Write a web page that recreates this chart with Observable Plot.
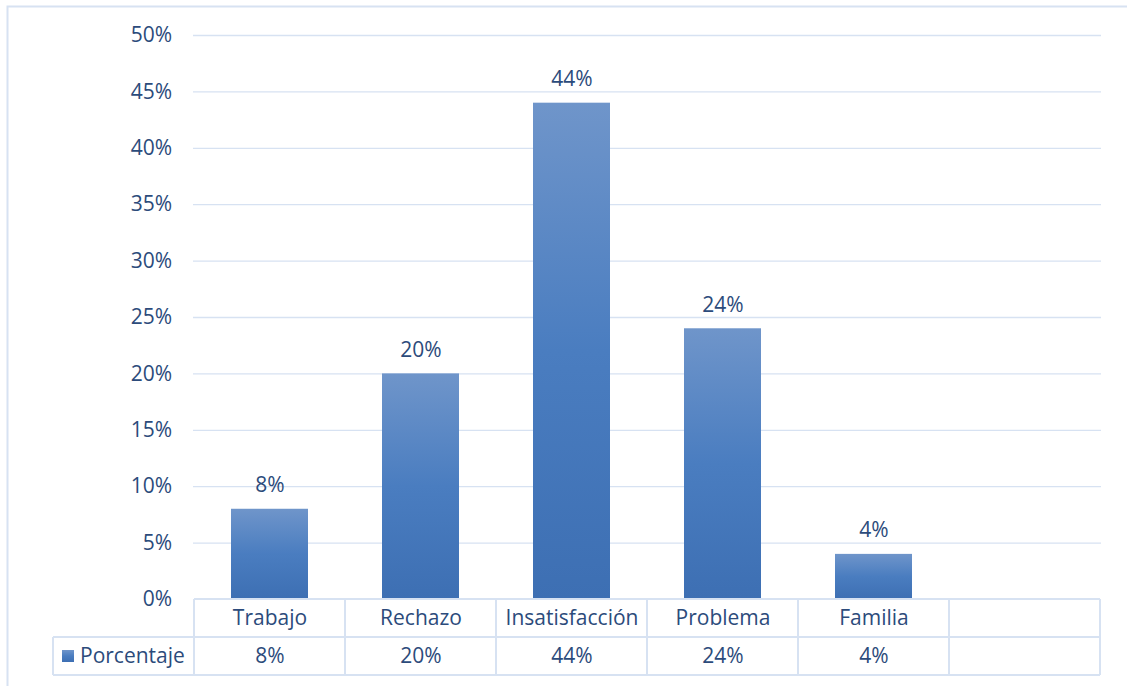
<!DOCTYPE html>
<html><head><meta charset="utf-8">
<script src="https://cdn.jsdelivr.net/npm/d3@7"></script>
<script src="https://cdn.jsdelivr.net/npm/@observablehq/plot@0.6"></script>
<style>
html,body{margin:0;padding:0;background:#fff;}
#chart{position:relative;width:1127px;height:686px;overflow:hidden;}
</style>
</head><body><div id="chart"></div>
<script>
const categories = ["Trabajo", "Rechazo", "Insatisfacción", "Problema", "Familia", ""];
const values = [0.08, 0.20, 0.44, 0.24, 0.04, null];
const valueLabels = ["8%", "20%", "44%", "24%", "4%", ""];
const yTicks = [0, 0.05, 0.10, 0.15, 0.20, 0.25, 0.30, 0.35, 0.40, 0.45, 0.50];
const seriesName = "Porcentaje";

const data = categories.map((c, i) => ({cat: c, v: values[i], label: valueLabels[i]}));
const bars = data.filter(d => d.v != null);

const textColor = "#2C4B7B";
const lineColor = "#D7E2F2";
const font = "'Open Sans', sans-serif";
const fs = 21;

const chart = Plot.plot({
  width: 1127,
  height: 686,
  marginLeft: 193,
  marginRight: 26,
  marginTop: 35,
  marginBottom: 87,
  style: {fontFamily: font, fontSize: fs + "px", color: textColor, background: "transparent", overflow: "visible"},
  x: {type: "band", domain: categories, paddingInner: 0.49, paddingOuter: 0.245, axis: null},
  y: {domain: [0, 0.5], axis: null},
  marks: [
    Plot.ruleY(yTicks.filter(t => t > 0), {stroke: lineColor, strokeWidth: 1.3}),
    Plot.barY(bars, {x: "cat", y: "v", fill: "url(#barGrad)"}),
    Plot.text(bars, {x: "cat", y: "v", text: "label", dy: -24, fill: textColor, fontSize: fs}),
    Plot.text(yTicks, {x: () => categories[0], y: d => d, text: d => Math.round(d * 100) + "%", frameAnchor: "left", dx: -98, textAnchor: "end", fill: textColor, fontSize: fs}),
    Plot.text(data, {x: "cat", y: () => 0, text: "cat", dy: 19, fill: textColor, fontSize: fs}),
    Plot.text(data, {x: "cat", y: () => 0, text: "label", dy: 57, fill: textColor, fontSize: fs})
  ]
});

const svg = d3.select(chart);
const defs = svg.insert("defs", ":first-child");
const g = defs.append("linearGradient").attr("id", "barGrad").attr("x1", 0).attr("y1", 0).attr("x2", 0).attr("y2", 1);
g.append("stop").attr("offset", "0%").attr("stop-color", "#6F95CA");
g.append("stop").attr("offset", "50%").attr("stop-color", "#4A7DC0");
g.append("stop").attr("offset", "100%").attr("stop-color", "#3D6FB3");

// Table grid using the plot's own scales
const xs = chart.scale("x");
const ys = chart.scale("y");
const step = xs.step;
const x0 = xs.apply(categories[0]) - (step - xs.bandwidth) / 2;
const xEnd = x0 + step * categories.length;
const yBase = ys.apply(0);
const rowH = 38;
const legendLeft = 53;
const tg = svg.append("g").attr("fill", "none").attr("stroke", lineColor).attr("stroke-width", 2);
tg.append("line").attr("x1", x0).attr("x2", xEnd).attr("y1", yBase).attr("y2", yBase);
tg.append("line").attr("x1", legendLeft).attr("x2", xEnd).attr("y1", yBase + rowH).attr("y2", yBase + rowH);
tg.append("line").attr("x1", legendLeft).attr("x2", xEnd).attr("y1", yBase + 2 * rowH).attr("y2", yBase + 2 * rowH);
tg.append("line").attr("x1", legendLeft).attr("x2", legendLeft).attr("y1", yBase + rowH).attr("y2", yBase + 2 * rowH);
for (let i = 0; i <= categories.length; i++) {
  const x = x0 + i * step;
  tg.append("line").attr("x1", x).attr("x2", x).attr("y1", yBase).attr("y2", yBase + 2 * rowH);
}
// Legend key in the table
const ly = yBase + rowH * 1.5;
svg.append("rect").attr("x", 62).attr("y", ly - 6).attr("width", 12).attr("height", 12).attr("fill", "url(#barGrad)");
svg.append("text").attr("x", 80).attr("y", ly).attr("dy", "0.35em").attr("fill", textColor)
  .attr("text-anchor", "start").attr("font-size", fs).attr("font-family", font).text(seriesName);
// Outer chart border
svg.append("rect").attr("x", 7.5).attr("y", 6.5).attr("width", 1140).attr("height", 700)
  .attr("fill", "none").attr("stroke", lineColor).attr("stroke-width", 2);

document.getElementById("chart").appendChild(chart);
</script>
</body></html>
